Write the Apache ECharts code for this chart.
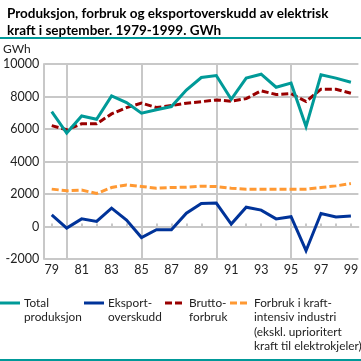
<!DOCTYPE html>
<html>
<head>
<meta charset="utf-8">
<script src="https://cdn.jsdelivr.net/npm/echarts@6/dist/echarts.min.js"></script>
<style>html,body{margin:0;padding:0;background:#fff}#c{width:361px;height:361px}</style>
</head>
<body>
<div id="c"></div>
<script>
const years = ['79','80','81','82','83','84','85','86','87','88','89','90','91','92','93','94','95','96','97','98','99'];
const totalProduksjon = [7070,5750,6800,6600,8040,7630,6970,7180,7380,8400,9170,9290,7830,9130,9370,8570,8820,6150,9330,9130,8880];
const eksportoverskudd = [720,-100,470,310,1130,400,-680,-200,-200,820,1420,1440,150,1190,1010,470,600,-1490,800,580,640];
const bruttoforbruk = [6210,5950,6320,6320,6930,7320,7590,7320,7440,7590,7680,7790,7710,7870,8350,8120,8180,7690,8450,8450,8200];
const kraftintensiv = [2300,2200,2240,2030,2400,2560,2460,2360,2400,2420,2480,2460,2360,2300,2300,2300,2300,2300,2400,2500,2640];
const yTicks = {min:-2000, max:10000, interval:2000};
const gridYears = ['80','85','90','95'];
const legendNames = ['Total\nproduksjon','Eksport-\noverskudd','Brutto-\nforbruk','Forbruk i kraft-\nintensiv industri\n(ekskl. uprioritert\nkraft til elektrokjeler)'];

const FONT = 'Lato';
const GRID = '#c8c8c8';
const colors = ['#009a98','#003399','#990000','#ff9933'];
const dashes = [null,null,[7,3],[7,3]];
const seriesData = [totalProduksjon, eksportoverskudd, bruttoforbruk, kraftintensiv];

const chart = echarts.init(document.getElementById('c'), null, {renderer:'canvas'});

const legendX = [0,84,165,230];
const legendGraphics = [];
legendNames.forEach((n,i)=>{
  legendGraphics.push({type:'line', shape:{x1:legendX[i], y1:303, x2:legendX[i]+20, y2:303},
    style:{stroke:colors[i], lineWidth:3, lineDash:dashes[i]||null}});
  legendGraphics.push({type:'text', x:legendX[i]+24, y:296,
    style:{text:n, font:'11.8px "'+FONT+'"', fill:'#222', lineHeight:14.3, textVerticalAlign:'top'}});
});

const series = seriesData.map((d,i)=>({
  type:'line', name:legendNames[i], data:d, xAxisIndex:0, symbol:'none', silent:true,
  z: [5,4,3,2][i],
  lineStyle:{color:colors[i], width:3, type: dashes[i]||'solid', cap:'butt', join:'miter'}
}));
series[3].markLine = {
  silent:true, symbol:['none','none'], z:1, label:{show:false},
  lineStyle:{color:GRID, width:2, type:'solid'},
  emphasis:{disabled:true},
  data: gridYears.map(y=>({xAxis:y}))
};

chart.setOption({
  animation:false,
  title:{text:'Produksjon, forbruk og eksportoverskudd av elektrisk\nkraft i september. 1979-1999. GWh', left:2, top:0,
    textStyle:{fontFamily:FONT, fontSize:13.5, fontWeight:'bold', color:'#000', lineHeight:17}},
  grid:{left:40, right:0, top:64, bottom:102, containLabel:false},
  xAxis:[{
    type:'category', data:years, boundaryGap:true, position:'bottom',
    axisLine:{show:false, onZero:false},
    axisTick:{show:false},
    axisLabel:{interval:1, margin:4, fontFamily:FONT, fontSize:12.5, color:'#222'},
    splitLine:{show:false}
  },{
    type:'category', data:years, boundaryGap:true, position:'bottom',
    axisLine:{show:true, onZero:true, lineStyle:{color:GRID, width:2}},
    axisTick:{show:true, inside:true, length:3, interval:0, alignWithLabel:true, lineStyle:{color:GRID, width:2}},
    axisLabel:{show:false}, splitLine:{show:false}
  }],
  yAxis:{type:'value', min:yTicks.min, max:yTicks.max, interval:yTicks.interval,
    axisLine:{show:true, lineStyle:{color:GRID, width:2}},
    axisTick:{show:false},
    axisLabel:{margin:5, fontFamily:FONT, fontSize:12.5, color:'#222', formatter:(v)=>String(v)},
    splitLine:{show:true, lineStyle:{color:GRID, width:2}}
  },
  series: series,
  graphic:[
    {type:'line', shape:{x1:0,y1:38,x2:361,y2:38}, style:{stroke:'#009999', lineWidth:2}},
    {type:'line', shape:{x1:0,y1:360,x2:361,y2:360}, style:{stroke:'#009999', lineWidth:2}},
    {type:'text', x:3, y:43, style:{text:'GWh', font:'12px "'+FONT+'"', fill:'#222'}},
    ...legendGraphics
  ]
});
</script>
</body>
</html>
